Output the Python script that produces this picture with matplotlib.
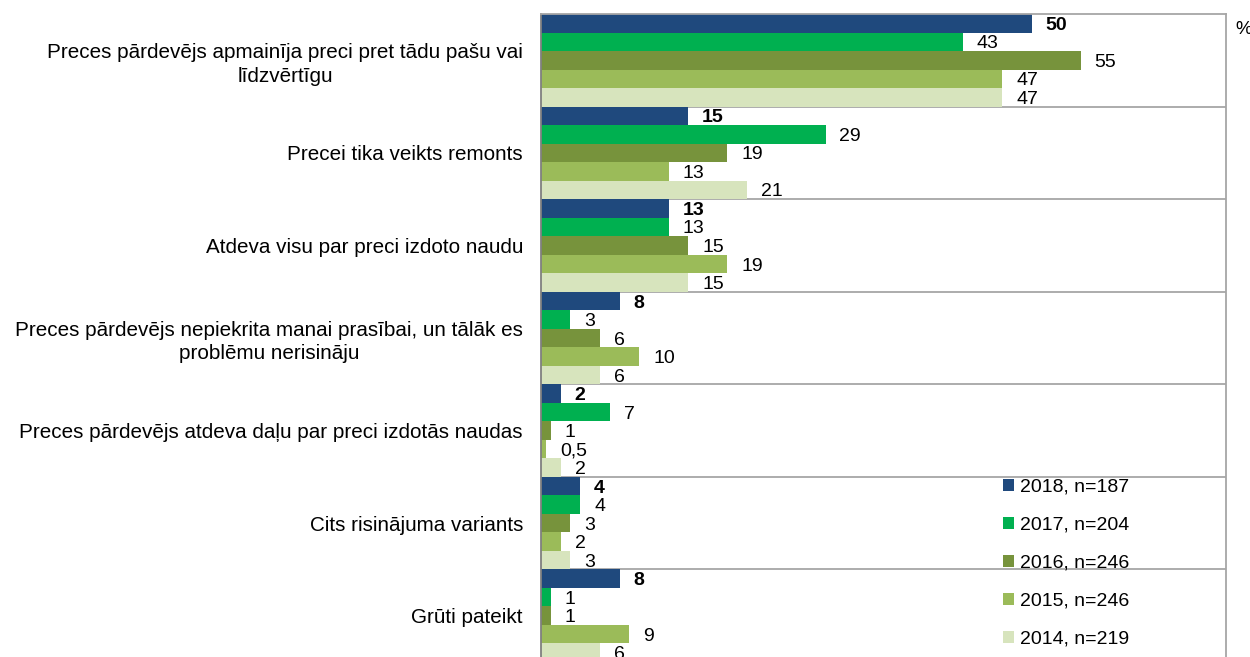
import numpy as np
import matplotlib.pyplot as plt
from matplotlib.patches import Patch

plt.rcParams['font.family'] = ['Liberation Sans', 'DejaVu Sans']

categories = [
    'Preces pārdevējs apmainīja preci pret tādu pašu vai\nlīdzvērtīgu',
    'Precei tika veikts remonts',
    'Atdeva visu par preci izdoto naudu',
    'Preces pārdevējs nepiekrita manai prasībai, un tālāk es\nproblēmu nerisināju',
    'Preces pārdevējs atdeva daļu par preci izdotās naudas',
    'Cits risinājuma variants',
    'Grūti pateikt',
]
series_names = ['2018, n=187', '2017, n=204', '2016, n=246', '2015, n=246', '2014, n=219']
v2018 = [50, 15, 13, 8, 2, 4, 8]
v2017 = [43, 29, 13, 3, 7, 4, 1]
v2016 = [55, 19, 15, 6, 1, 3, 1]
v2015 = [47, 13, 19, 10, 0.5, 2, 9]
v2014 = [47, 21, 15, 6, 2, 3, 6]
series = [v2018, v2017, v2016, v2015, v2014]
colors = ['#1F497D', '#00B050', '#77933C', '#9BBB59', '#D7E4BD']

fig = plt.figure(figsize=(12.5, 6.57), dpi=100)
ax = fig.add_axes([0.4328, -0.0076, 0.548, 0.9863])

n = len(categories)
bh = 0.2
idx = np.arange(n)
for j, (vals, col) in enumerate(zip(series, colors)):
    y = idx + bh / 2 + j * bh
    ax.barh(y, vals, height=bh, color=col, edgecolor='none')
    for yy, v in zip(y, vals):
        txt = f'{v:g}'.replace('.', ',')
        ax.annotate(txt, (v, yy), xytext=(10, -1.5), textcoords='offset points',
                    ha='left', va='center', fontsize=14,
                    fontweight='bold' if j == 0 else 'normal')

for k in range(1, n):
    ax.axhline(k, color='#A6A6A6', lw=1.3, zorder=0)

ax.set_xlim(0, 69.8)
ax.set_ylim(n, 0)
ax.set_xticks([])
ax.set_yticks(idx + 0.5)
ax.set_yticklabels(categories, fontsize=14.9)
for lbl in ax.get_yticklabels():
    lbl.set_multialignment('center')
    lbl.set_linespacing(1.3)
ax.tick_params(axis='y', length=0, pad=13)
for s in ['top', 'right']:
    ax.spines[s].set_color('#A6A6A6')
    ax.spines[s].set_linewidth(1.3)
ax.spines['left'].set_color('#808080')
ax.spines['left'].set_linewidth(1.3)
ax.spines['bottom'].set_visible(False)

handles = [Patch(facecolor=c, edgecolor='none') for c in colors]
fig.legend(handles, series_names, loc='upper left', bbox_to_anchor=(0.8027, 0.2714),
           frameon=False, fontsize=14, handlelength=0.55, handleheight=0.55,
           handletextpad=0.3, labelspacing=1.08, borderaxespad=0, borderpad=0)

fig.text(1235 / 1250, 1 - 29 / 657, '%', fontsize=13.5, ha='left', va='center')

fig.savefig('out.png', dpi=100)
